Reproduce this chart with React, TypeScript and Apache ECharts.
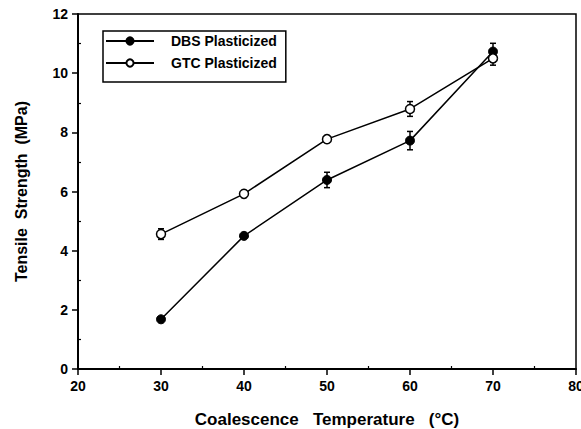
import React, { useEffect, useRef } from "react";
import * as echarts from "echarts";

const temps = [30, 40, 50, 60, 70];
const dbsValues = [1.68, 4.5, 6.39, 7.72, 10.73];
const dbsErrors = [0.05, 0.08, 0.26, 0.31, 0.28];
const gtcValues = [4.56, 5.92, 7.77, 8.79, 10.5];
const gtcErrors = [0.18, 0.06, 0.07, 0.25, 0.23];
const xMinorTicks = [25, 35, 45, 55, 65, 75];
const yMinorTicks = [1, 3, 5, 7, 9, 11];

const FONT = "'Liberation Sans', Arial, sans-serif";

function errorSeries(values: number[], errors: number[]) {
  const data = temps.map((t, i) => [t, values[i] - errors[i], values[i] + errors[i]]);
  return {
    type: "custom",
    xAxisIndex: 0,
    yAxisIndex: 0,
    silent: true,
    z: 1,
    data,
    renderItem: (_params: any, api: any) => {
      const x = api.value(0);
      const lo = api.coord([x, api.value(1)]);
      const hi = api.coord([x, api.value(2)]);
      const cap = 3;
      const style = { stroke: "#000", lineWidth: 1.5 };
      return {
        type: "group",
        children: [
          { type: "line", shape: { x1: lo[0], y1: lo[1], x2: hi[0], y2: hi[1] }, style },
          { type: "line", shape: { x1: lo[0] - cap, y1: lo[1], x2: lo[0] + cap, y2: lo[1] }, style },
          { type: "line", shape: { x1: hi[0] - cap, y1: hi[1], x2: hi[0] + cap, y2: hi[1] }, style },
        ],
      };
    },
  };
}

export default function App() {
  const ref = useRef<HTMLDivElement>(null);
  useEffect(() => {
    if (!ref.current) return;
    const chart = echarts.init(ref.current, undefined, { renderer: "svg" });
    const labelStyle = { color: "#000", fontFamily: FONT, fontWeight: "bold" as const, fontSize: 14 };
    chart.setOption({
      animation: false,
      backgroundColor: "#fff",
      grid: {
        left: 78,
        right: 5,
        top: 14,
        bottom: 60,
        show: true,
        borderColor: "#000",
        borderWidth: 1.5,
        backgroundColor: "transparent",
        containLabel: false,
        outerBoundsMode: "none",
      },
      legend: {
        data: ["DBS Plasticized", "GTC Plasticized"],
        left: 103,
        top: 31,
        orient: "vertical",
        borderColor: "#000",
        borderWidth: 1.5,
        padding: [3, 9, 12, 2],
        itemWidth: 48,
        itemHeight: 9,
        itemGap: 8,
        textStyle: { ...labelStyle, fontSize: 14, padding: [0, 0, 0, 12] },
      },
      xAxis: [
        {
          type: "value",
          min: 20,
          max: 80,
          interval: 10,
          name: "Coalescence   Temperature   (°C)",
          nameLocation: "middle",
          nameGap: 42,
          nameTextStyle: { ...labelStyle, fontSize: 17 },
          axisLine: { show: true, lineStyle: { color: "#000", width: 2 } },
          axisTick: { show: true, inside: false, length: 6, lineStyle: { color: "#000", width: 1.5 } },
          axisLabel: { ...labelStyle, margin: 10 },
          splitLine: { show: false },
        },
        {
          type: "value",
          min: 20,
          max: 80,
          position: "bottom",
          axisLine: { show: false },
          axisLabel: { show: false },
          axisTick: {
            show: true,
            inside: true,
            length: 3,
            customValues: xMinorTicks,
            lineStyle: { color: "#000", width: 1.2 },
          },
          splitLine: { show: false },
        },
      ],
      yAxis: [
        {
          type: "value",
          min: 0,
          max: 12,
          interval: 2,
          name: "Tensile  Strength  (MPa)",
          nameLocation: "middle",
          nameGap: 49,
          nameTextStyle: { ...labelStyle, fontSize: 16 },
          axisLine: { show: true, lineStyle: { color: "#000", width: 2 } },
          axisTick: { show: true, inside: false, length: 6, lineStyle: { color: "#000", width: 1.5 } },
          axisLabel: { ...labelStyle, margin: 10 },
          splitLine: { show: false },
        },
        {
          type: "value",
          min: 0,
          max: 12,
          position: "left",
          axisLine: { show: false },
          axisLabel: { show: false },
          axisTick: {
            show: true,
            inside: true,
            length: 3,
            customValues: yMinorTicks,
            lineStyle: { color: "#000", width: 1.2 },
          },
          splitLine: { show: false },
        },
      ],
      series: [
        errorSeries(dbsValues, dbsErrors),
        errorSeries(gtcValues, gtcErrors),
        {
          name: "DBS Plasticized",
          type: "line",
          data: temps.map((t, i) => [t, dbsValues[i]]),
          symbol: "circle",
          symbolSize: 9,
          lineStyle: { color: "#000", width: 1.5 },
          itemStyle: { color: "#000", borderColor: "#000", borderWidth: 1 },
          z: 3,
        },
        {
          name: "GTC Plasticized",
          type: "line",
          data: temps.map((t, i) => [t, gtcValues[i]]),
          symbol: "circle",
          symbolSize: 9,
          lineStyle: { color: "#000", width: 1.5 },
          itemStyle: { color: "#fff", borderColor: "#000", borderWidth: 1.5 },
          z: 4,
        },
      ],
    });
    return () => chart.dispose();
  }, []);
  return <div ref={ref} style={{ width: 581, height: 429, position: "absolute", left: 0, top: 0 }} />;
}
